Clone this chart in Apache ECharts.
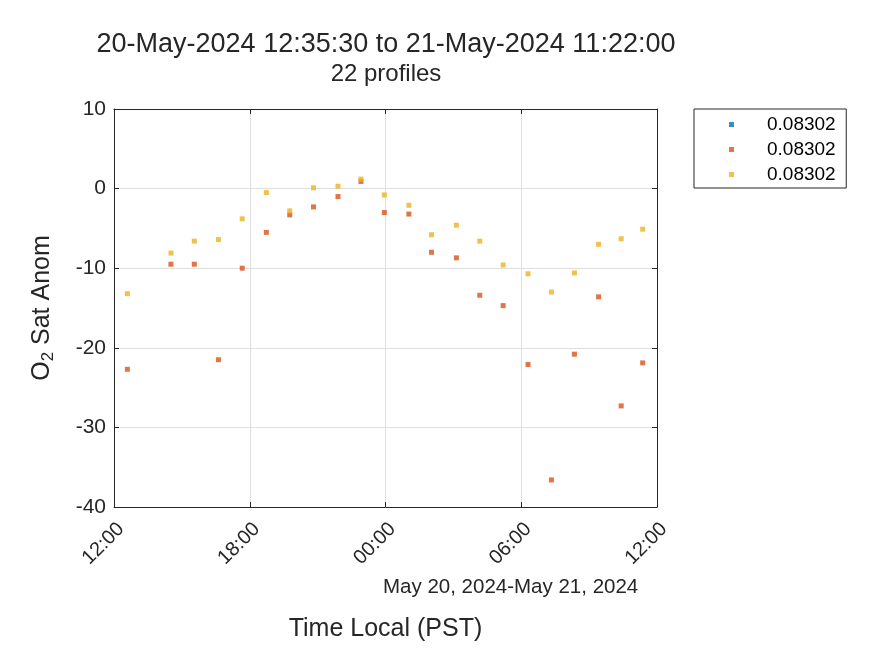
<!DOCTYPE html>
<html>
<head>
<meta charset="UTF-8">
<title>O2 Sat Anom</title>
<script src="https://cdn.jsdelivr.net/npm/echarts@6/dist/echarts.min.js"></script>
<style>
  html, body { margin: 0; padding: 0; background: #fff; }
  #main { width: 875px; height: 656px; }
</style>
</head>
<body>
<div id="main"></div>
<script>
  // profile times (PST), 20-21 May 2024
  const times = ['2024-05-20 12:35:30', '2024-05-20 14:31', '2024-05-20 15:33', '2024-05-20 16:37',
    '2024-05-20 17:40', '2024-05-20 18:44', '2024-05-20 19:46', '2024-05-20 20:49',
    '2024-05-20 21:54', '2024-05-20 22:55', '2024-05-20 23:57', '2024-05-21 01:02',
    '2024-05-21 02:02', '2024-05-21 03:08', '2024-05-21 04:10', '2024-05-21 05:12',
    '2024-05-21 06:18', '2024-05-21 07:20', '2024-05-21 08:21', '2024-05-21 09:25',
    '2024-05-21 10:25', '2024-05-21 11:22'];
  const seriesA = [];   // blue, nothing visible
  const seriesB = [-22.7, -9.5, -9.5, -21.5, -10.0, -5.5, -3.3, -2.3, -1.0, 0.9, -3.0,
    -3.2, -8.0, -8.7, -13.4, -14.7, -22.1, -36.6, -20.8, -13.6, -27.3, -21.9];
  const seriesC = [-13.2, -8.1, -6.6, -6.4, -3.8, -0.5, -2.8, 0.1, 0.3, 1.2, -0.8,
    -2.1, -5.8, -4.6, -6.6, -9.6, -10.7, -13.0, -10.6, -7.0, -6.3, -5.1];
  const legendNames = ['0.08302', '0.08302 ', '0.08302  '];
  const yTicks = { min: -40, max: 10, step: 10 };

  function toMs(s) {
    const p = s.split(/[- :]/).map(Number);
    return Date.UTC(p[0], p[1] - 1, p[2], p[3], p[4], p[5] || 0);
  }
  const H = 3600 * 1000;
  const xMin = Date.UTC(2024, 4, 20, 12, 0, 0);
  const xMax = Date.UTC(2024, 4, 21, 12, 0, 0);
  function pairs(vals) { return vals.map((v, i) => [toMs(times[i]), v]); }
  function hhmm(v) {
    const d = new Date(v);
    const h = String(d.getUTCHours()).padStart(2, '0');
    const m = String(d.getUTCMinutes()).padStart(2, '0');
    return h + ':' + m;
  }

  const font = 'Arial, "Liberation Sans", Helvetica, sans-serif';
  const ink = '#262626';
  const chart = echarts.init(document.getElementById('main'), null, { renderer: 'canvas' });

  const sq = { type: 'scatter', symbol: 'rect', symbolSize: 5 };
  const boxLine = { show: true, onZero: false, lineStyle: { color: ink, width: 1 } };
  const inTick = { inside: true, length: 5, lineStyle: { color: ink } };
  chart.setOption({
    animation: false,
    textStyle: { fontFamily: font, color: ink },
    title: {
      text: '20-May-2024 12:35:30 to 21-May-2024 11:22:00',
      subtext: '22 profiles',
      left: 381, top: 26, textAlign: 'center', itemGap: 4,
      textStyle: { fontFamily: font, fontSize: 27, fontWeight: 'normal', color: ink },
      subtextStyle: { fontFamily: font, fontSize: 24, color: ink }
    },
    legend: {
      orient: 'vertical', left: 694, top: 109,
      padding: [6, 0, 4, 35], itemGap: 6,
      borderColor: '#262626', borderWidth: 1, borderRadius: 0,
      icon: 'rect', itemWidth: 5, itemHeight: 5,
      textStyle: { fontFamily: font, fontSize: 19, color: '#000', padding: [0, 0, 0, 28] },
      data: legendNames
    },
    grid: { left: 114, right: 218, top: 109, bottom: 149, show: false },
    xAxis: [{
      type: 'value', min: xMin, max: xMax, interval: 6 * H,
      name: 'Time Local (PST)', nameLocation: 'middle', nameGap: 110,
      nameTextStyle: { fontFamily: font, fontSize: 25, color: ink },
      axisLine: boxLine, axisTick: inTick,
      axisLabel: { rotate: 45, fontSize: 20, color: ink, margin: 12, verticalAlign: 'top', formatter: hhmm },
      splitLine: { show: true, lineStyle: { color: '#dfdfdf' } }
    }, {
      type: 'value', position: 'top', min: xMin, max: xMax, interval: 6 * H,
      axisLine: boxLine, axisTick: inTick,
      axisLabel: { show: false }, splitLine: { show: false }
    }],
    yAxis: [{
      type: 'value', min: yTicks.min, max: yTicks.max, interval: yTicks.step,
      name: 'O{sub|2} Sat Anom', nameLocation: 'middle', nameGap: 57, nameRotate: 90,
      nameTextStyle: {
        fontFamily: font, fontSize: 25, color: ink,
        rich: { sub: { fontFamily: font, fontSize: 17, color: ink, verticalAlign: 'bottom', padding: [12, 0, 0, 0] } }
      },
      axisLine: boxLine, axisTick: inTick,
      axisLabel: { fontSize: 21, color: ink, margin: 8 },
      splitLine: { show: true, lineStyle: { color: '#dfdfdf' } }
    }, {
      type: 'value', position: 'right', min: yTicks.min, max: yTicks.max, interval: yTicks.step,
      axisLine: boxLine, axisTick: inTick,
      axisLabel: { show: false }, splitLine: { show: false }
    }],
    graphic: [{
      type: 'text', left: 383, top: 577,
      style: { text: 'May 20, 2024-May 21, 2024', font: '20.5px ' + font, fill: ink }
    }],
    series: [
      Object.assign({ name: legendNames[0], itemStyle: { color: '#0072BD' }, data: pairs(seriesA) }, sq),
      Object.assign({ name: legendNames[1], itemStyle: { color: '#D95319' }, data: pairs(seriesB) }, sq),
      Object.assign({ name: legendNames[2], itemStyle: { color: '#EDB120' }, data: pairs(seriesC) }, sq)
    ]
  });
</script>
</body>
</html>
